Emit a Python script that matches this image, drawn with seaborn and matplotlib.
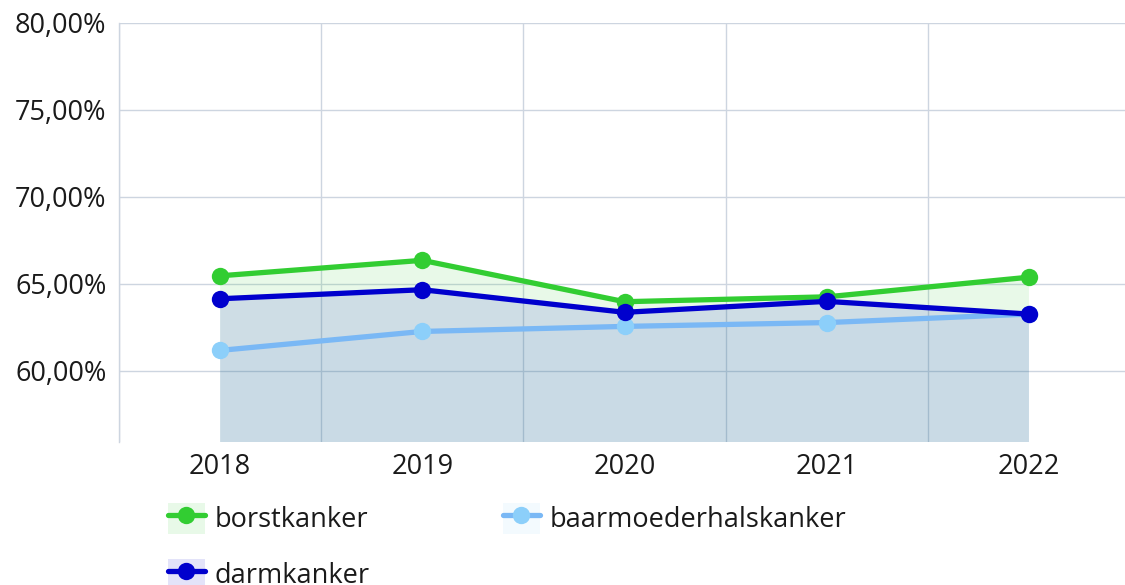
import matplotlib as mpl
import matplotlib.pyplot as plt
import numpy as np
import pandas as pd
import seaborn as sns
from matplotlib.lines import Line2D
from matplotlib.patches import Patch
from matplotlib.legend_handler import HandlerTuple
from matplotlib.ticker import FuncFormatter, MultipleLocator

mpl.use("Agg")

# data (percentages)
years = [2018, 2019, 2020, 2021, 2022]
borstkanker = [65.46, 66.35, 63.97, 64.25, 65.38]
darmkanker = [64.14, 64.66, 63.36, 63.99, 63.26]
baarmoederhalskanker = [61.17, 62.26, 62.55, 62.77, 63.26]

series_names = ["borstkanker", "baarmoederhalskanker", "darmkanker"]
series_values = [borstkanker, baarmoederhalskanker, darmkanker]
line_colors = ["#32cd32", "#7ab8f5", "#0000cd"]
marker_colors = ["#32cd32", "#8ccffa", "#0000cd"]
fill_alphas = [0.11, 0.06, 0.11]

y_min, y_max = 55.9, 80.0

sns.set_theme(style="white")
plt.rcParams["font.family"] = ["Open Sans", "DejaVu Sans"]

fig = plt.figure(figsize=(11.25, 5.85), dpi=100)
ax = fig.add_axes([0.1058, 0.2444, 0.8987, 0.7163])

grid_color = "#cdd5e0"
ax.set_axisbelow(True)

for name, vals, mc, fa in zip(series_names, series_values, marker_colors, fill_alphas):
    df = pd.DataFrame({"jaar": years, "waarde": vals})
    ax.fill_between(df["jaar"], df["waarde"], 0, color=mc, alpha=fa, linewidth=0, zorder=1)

# draw order: green, light blue, dark blue on top
for idx in [0, 1, 2]:
    df = pd.DataFrame({"jaar": years, "waarde": series_values[idx]})
    sns.lineplot(data=df, x="jaar", y="waarde", ax=ax, color=line_colors[idx],
                 linewidth=3.8, marker="o", markersize=12.5,
                 markerfacecolor=marker_colors[idx], markeredgecolor=marker_colors[idx],
                 markeredgewidth=0, zorder=3 + idx, legend=False)

ax.set_xlim(years[0] - 0.5, years[-1] + 0.5)
ax.set_ylim(y_min, y_max)
ax.xaxis.set_major_locator(MultipleLocator(1))
ax.xaxis.set_minor_locator(MultipleLocator(0.5))
ax.yaxis.set_major_locator(MultipleLocator(5))
ax.yaxis.set_major_formatter(FuncFormatter(lambda v, p: f"{v:.2f}%".replace(".", ",")))
ax.xaxis.set_major_formatter(FuncFormatter(lambda v, p: f"{int(round(v))}"))

ax.grid(False)
ax.grid(True, axis="y", which="major", color=grid_color, linewidth=1)
ax.grid(True, axis="x", which="minor", color=grid_color, linewidth=1)
ax.tick_params(axis="both", which="both", length=0, labelsize=19.5, colors="#1a1a1a")
ax.tick_params(axis="x", pad=8)
ax.tick_params(axis="y", pad=9)
ax.set_xlabel("")
ax.set_ylabel("")

for side in ["top", "right", "bottom"]:
    ax.spines[side].set_visible(False)
ax.spines["left"].set_color(grid_color)
ax.spines["left"].set_linewidth(1)

# legend: light square with line + marker, laid out row-wise in two columns
handles = []
for name, lc, mc, fa in zip(series_names, line_colors, marker_colors, fill_alphas):
    sq = Patch(facecolor=mc, alpha=max(fa, 0.1), edgecolor="none")
    ln = Line2D([], [], color=lc, linewidth=3.8, marker="o", markersize=12.5,
                markerfacecolor=mc, markeredgewidth=0)
    handles.append((sq, ln))
order = [0, 2, 1]
leg = fig.legend([handles[i] for i in order], [series_names[i] for i in order],
                 handler_map={tuple: HandlerTuple(ndivide=1, pad=0)},
                 loc="upper left", bbox_to_anchor=(0.149, 0.1405), ncol=2,
                 frameon=False, fontsize=19.5, handlelength=1.37, handleheight=1.37,
                 handletextpad=0.37, labelspacing=0.91, columnspacing=4.9,
                 borderaxespad=0, borderpad=0, numpoints=1)
for t in leg.get_texts():
    t.set_color("#1a1a1a")

fig.savefig("out.png", dpi=100)
